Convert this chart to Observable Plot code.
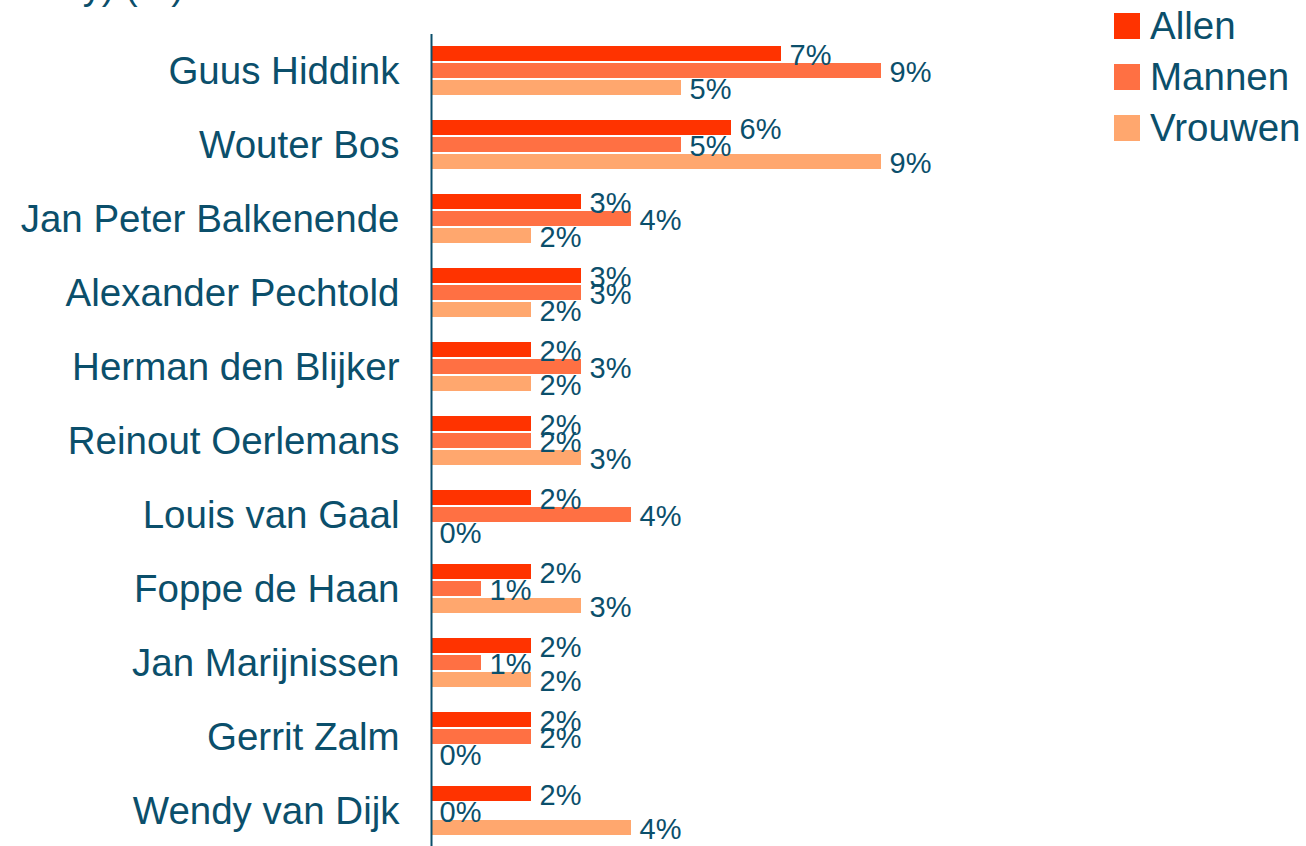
<!DOCTYPE html>
<html>
<head>
<meta charset="utf-8">
<script src="https://cdn.jsdelivr.net/npm/d3@7"></script>
<script src="https://cdn.jsdelivr.net/npm/@observablehq/plot@0.6"></script>
<style>
  html, body { margin: 0; padding: 0; background: #fff; overflow: hidden; }
  #wrap { position: relative; width: 1306px; height: 846px; overflow: hidden; font-family: "Liberation Sans", Arial, sans-serif; color: #0b4f6b; }
  #title { position: absolute; right: 1122px; top: -33px; font-size: 38px; line-height: 38px; white-space: nowrap; }
  #legend { position: absolute; left: 1114px; top: 0; }
  .item { position: absolute; left: 0; white-space: nowrap; font-size: 38.5px; line-height: 38px; }
  .sw { position: absolute; left: 0; width: 26px; height: 26px; }
  .lab { position: absolute; left: 36px; top: 0; }
  #chart { position: absolute; left: 0; top: 0; }
</style>
</head>
<body>
<div id="wrap">
  <div id="title">Nederland Survey) (%)</div>
  <div id="chart"></div>
  <div id="legend"></div>
</div>
<script>
const names = ["Guus Hiddink", "Wouter Bos", "Jan Peter Balkenende", "Alexander Pechtold", "Herman den Blijker", "Reinout Oerlemans", "Louis van Gaal", "Foppe de Haan", "Jan Marijnissen", "Gerrit Zalm", "Wendy van Dijk"];
const series = ["Allen", "Mannen", "Vrouwen"];
const allen   = [7, 6, 3, 3, 2, 2, 2, 2, 2, 2, 2];
const mannen  = [9, 5, 4, 3, 3, 2, 4, 1, 1, 2, 0];
const vrouwen = [5, 9, 2, 2, 2, 3, 0, 3, 2, 0, 4];
const colors = ["#ff3300", "#ff7043", "#ffa76e"];
const ink = "#0b4f6b";

const values = [allen, mannen, vrouwen];
const rows = names.flatMap((n, i) => series.map((s, j) => ({name: n, series: s, value: values[j][i]})));

const chart = Plot.plot({
  width: 1306,
  height: 846,
  marginLeft: 431,
  marginRight: 425,
  marginTop: 45,
  marginBottom: 8,
  style: {fontFamily: "'Liberation Sans', Arial, sans-serif", fontSize: "38.5px", color: ink, background: "transparent", overflow: "visible"},
  facet: {data: rows, y: "name", marginRight: 0},
  fy: {domain: names, paddingInner: 0.297, paddingOuter: 0, label: null, axis: "left", tickSize: 0, tickPadding: 32},
  y: {domain: series, axis: null, paddingInner: 0.1, paddingOuter: 0},
  x: {domain: [0, 9], axis: null},
  color: {domain: series, range: colors},
  marks: [
    Plot.barX(rows, {x: "value", y: "series", fill: "series"}),
    Plot.text(rows, {x: "value", y: "series", text: d => d.value + "%", dx: 8, dy: 2, textAnchor: "start", fontSize: 29, fill: ink}),
    Plot.ruleX([0], {stroke: ink, strokeWidth: 2, insetTop: -11, insetBottom: -11})
  ]
});
document.getElementById("chart").appendChild(chart);

const legend = document.getElementById("legend");
series.forEach((s, i) => {
  const item = document.createElement("div");
  item.className = "item";
  item.style.top = (7 + i * 51) + "px";
  const sw = document.createElement("div");
  sw.className = "sw";
  sw.style.background = colors[i];
  sw.style.top = "6px";
  const lab = document.createElement("div");
  lab.className = "lab";
  lab.textContent = s;
  item.appendChild(sw);
  item.appendChild(lab);
  legend.appendChild(item);
});
</script>
</body>
</html>
